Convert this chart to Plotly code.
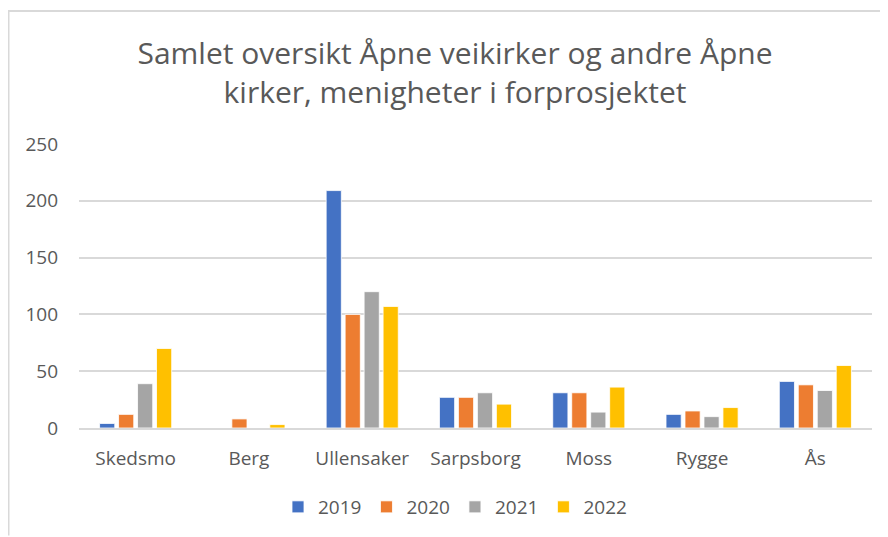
import plotly.graph_objects as go

categories = ["Skedsmo", "Berg", "Ullensaker", "Sarpsborg", "Moss", "Rygge", "Ås"]
years = ["2019", "2020", "2021", "2022"]
v2019 = [4, 0, 209, 27, 31, 12, 41]
v2020 = [12, 8, 100, 27, 31, 15, 38]
v2021 = [39, 0, 120, 31, 14, 10, 33]
v2022 = [70, 3, 107, 21, 36, 18, 55]
colors = ["#4472C4", "#ED7D31", "#A5A5A5", "#FFC000"]
series = [v2019, v2020, v2021, v2022]

# page has an 8px body margin, so the figure is 880x529
W, H = 880, 529
ml, mr, mt, mb = 71, 16, 136, 108

fig = go.Figure()
for name, vals, col in zip(years, series, colors):
    fig.add_trace(go.Bar(
        x=categories, y=vals, name=name,
        marker=dict(color=col, line=dict(color="white", width=0.8)),
    ))

font_family = "Open Sans, Noto Sans, sans-serif"
grey = "#595959"

pw = W - ml - mr
ph = H - mt - mb
def px_x(x):
    return (x - ml) / pw
def px_y(y):
    return (H - mb - y) / ph

fig.add_shape(type="line", xref="paper", yref="paper", layer="above",
              x0=px_x(0), x1=px_x(W), y0=px_y(2.5), y1=px_y(2.5),
              line=dict(color="#D9D9D9", width=2))
fig.add_shape(type="line", xref="paper", yref="paper", layer="above",
              x0=px_x(0.5), x1=px_x(0.5), y0=px_y(2.5), y1=px_y(H),
              line=dict(color="#D9D9D9", width=2))

fig.update_layout(
    width=W, height=H,
    margin=dict(l=ml, r=mr, t=mt, b=mb),
    paper_bgcolor="white", plot_bgcolor="white",
    barmode="group", bargap=0.33, bargroupgap=0.2,
    title=dict(
        text="Samlet oversikt Åpne veikirker og andre Åpne<br>kirker, menigheter i forprosjektet",
        x=447 / W, xref="container", xanchor="center",
        y=1 - 56 / H, yref="container", yanchor="middle",
        font=dict(family=font_family, size=30, color=grey),
    ),
    font=dict(family=font_family, color=grey, size=19),
    xaxis=dict(
        showgrid=False, showline=True, linecolor="#D9D9D9", linewidth=2,
        ticks="", tickfont=dict(size=19, color=grey), ticklabelstandoff=12,
    ),
    yaxis=dict(
        range=[0, 250], tickvals=[0, 50, 100, 150, 200, 250],
        showgrid=True, gridcolor="#D9D9D9", gridwidth=1.5,
        zeroline=False, showline=False, ticks="",
        tickfont=dict(size=19, color=grey), ticklabelstandoff=20,
    ),
    legend=dict(
        orientation="h", x=(447 - ml) / pw, xanchor="center",
        y=-(499 - (H - mb)) / ph, yanchor="middle",
        font=dict(size=19, color=grey), itemwidth=30,
        traceorder="normal",
    ),
)

fig.write_html("out.html")
